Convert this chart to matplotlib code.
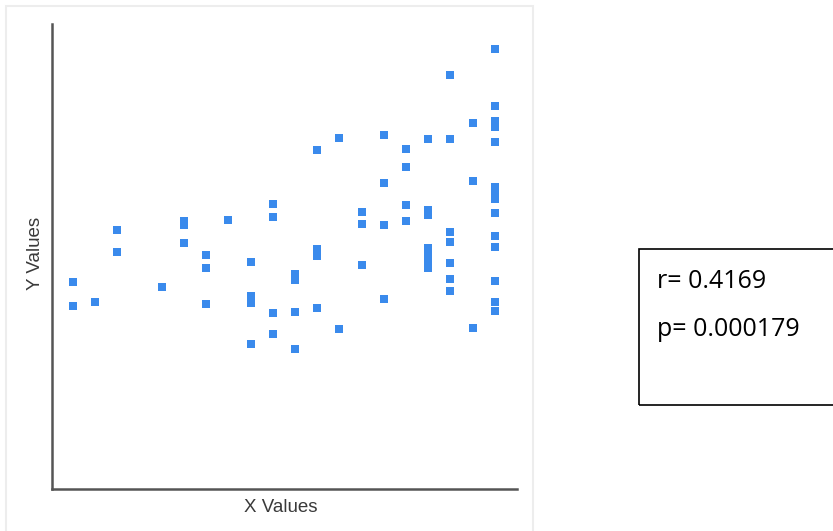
import matplotlib
matplotlib.use("Agg")
import matplotlib.pyplot as plt
from matplotlib.patches import Rectangle
from matplotlib import font_manager

# data (x = column index, y = value on a 0-100 scale)
col_x = [1, 1, 2, 3, 3, 5, 6, 6, 6, 7, 7, 7, 8,
         9, 9, 9, 9, 10, 10, 10, 10, 11, 11, 11, 11,
         12, 12, 12, 12, 13, 13, 14, 14, 14,
         15, 15, 15, 15, 16, 16, 16, 16,
         17, 17, 17, 17, 17, 17, 17,
         18, 18, 18, 18, 18, 18, 18,
         19, 19, 19,
         20, 20, 20, 20, 20, 20, 20, 20, 20, 20, 20, 20, 20, 20]
col_y = [44.5, 39.4, 40.2, 55.7, 51.0, 43.4, 57.6, 56.8, 52.9, 50.3, 47.5, 39.8, 57.8,
         48.8, 41.5, 40.0, 31.2, 61.3, 58.5, 37.8, 33.3, 46.2, 44.9, 38.1, 30.1,
         72.9, 51.6, 50.1, 38.9, 75.5, 34.4, 59.6, 57.0, 48.2,
         76.1, 65.8, 56.8, 40.9, 73.1, 69.2, 61.1, 57.6,
         75.3, 60.0, 58.9, 51.8, 50.5, 49.0, 47.5,
         89.0, 75.3, 55.3, 53.1, 48.6, 45.2, 42.6,
         78.7, 66.2, 34.6,
         94.6, 82.4, 79.1, 77.8, 74.6, 64.9, 63.7, 62.4, 59.4, 54.4, 52.0, 44.7, 40.2, 38.3]

r_text = "r= 0.4169"
p_text = "p= 0.000179"

W, H = 833, 531
fig = plt.figure(figsize=(W / 100, H / 100), dpi=100)

# light frame around the chart
fig.patches.append(Rectangle((6 / W, -0.01), (533 - 6) / W, (H - 6) / H + 0.01,
                             transform=fig.transFigure, fill=False,
                             edgecolor='#ededed', linewidth=1.5))

ax = fig.add_axes([52 / W, 1 - 489 / H, (517 - 52) / W, (489 - 24) / H])
ax.plot(col_x, col_y, linestyle='none', marker='s', markersize=5.2,
        markeredgewidth=0, color='#3a8aec')
ax.set_xlim(0.05, 21.0)
ax.set_ylim(0, 100)
ax.set_xticks([])
ax.set_yticks([])
for s in ['top', 'right']:
    ax.spines[s].set_visible(False)
for s in ['left', 'bottom']:
    ax.spines[s].set_color('#555555')
    ax.spines[s].set_linewidth(1.8)

try:
    font_manager.findfont('Liberation Sans Narrow', fallback_to_default=False)
    lab_font, lab_size = 'Liberation Sans Narrow', 15.5
except ValueError:
    lab_font, lab_size = 'Liberation Sans', 13.5

fig.text(281 / W, 1 - 507 / H, 'X Values', ha='center', va='center',
         family=lab_font, fontsize=lab_size, color='#3a3a3a')
fig.text(36 / W, 1 - 253 / H, 'Y Values', ha='center', va='center', rotation=90,
         family=lab_font, fontsize=lab_size, color='#3a3a3a')

# stats box on the right
fig.patches.append(Rectangle((639 / W, 1 - 405 / H), 0.3, (405 - 249) / H,
                             transform=fig.transFigure, fill=False,
                             edgecolor='black', linewidth=1.2, clip_on=False))
fig.text(657 / W, 1 - 282 / H, r_text, ha='left', va='center',
         family='Open Sans', fontsize=18, color='black')
fig.text(657 / W, 1 - 330 / H, p_text, ha='left', va='center',
         family='Open Sans', fontsize=18, color='black')

fig.savefig('out.png', dpi=100)
